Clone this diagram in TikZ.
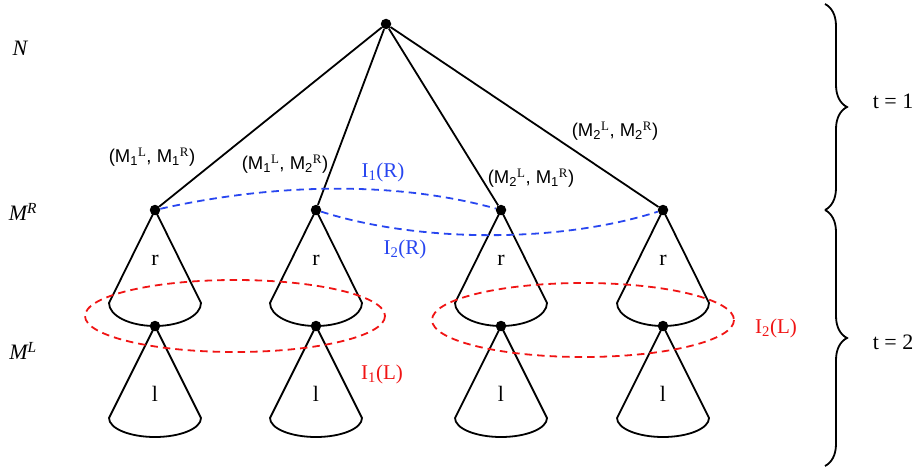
\documentclass[tikz,border=0pt]{standalone}
\usepackage{fontspec}
\setmainfont{Liberation Serif}
\newfontfamily\movefont{Liberation Sans}
\usetikzlibrary{decorations.pathreplacing}

\definecolor{setred}{RGB}{240,20,20}
\definecolor{setblue}{RGB}{40,70,240}

\tikzstyle{dot} = [circle,fill=black,inner sep=0pt,minimum size=10.5pt]
\tikzstyle{edge} = [line width=1.8pt]
\tikzstyle{info} = [line width=1.8pt,dash pattern=on 7.5pt off 5pt]
\tikzstyle{move} = [font=\movefont\fontsize{18.5}{20}\selectfont]
\tikzstyle{setlabel} = [font=\fontsize{21}{24}\selectfont]
\tikzstyle{conelabel} = [font=\fontsize{22}{24}\selectfont]
\tikzstyle{player} = [font=\itshape\fontsize{22}{24}\selectfont]

\newcommand{\mv}[4]{(M\textsubscript{#1}\textsuperscript{\rmfamily#2}, M\textsubscript{#3}\textsuperscript{\rmfamily#4})}

\begin{document}
\begin{tikzpicture}[x=1pt,y=-1pt]
\useasboundingbox (0,0) rectangle (921,468);

\node (root) [dot] at (386,24) {};

% cones for both stages
\foreach \x/\n in {155/1,316/2,501/3,663/4} {
  \draw [edge] (\x,210) -- (\x-46,303) arc[start angle=180,end angle=0,x radius=46,y radius=23] -- cycle;
  \draw [edge] (\x,326) -- (\x-46,418) arc[start angle=180,end angle=0,x radius=46,y radius=19] -- cycle;
  \node (r\n) [dot] at (\x,210) {};
  \node (l\n) [dot] at (\x,326) {};
  \node (rl\n) [conelabel] at (\x,260) {r};
  \node (ll\n) [conelabel] at (\x,394) {l};
  \draw [edge] (root) -- (r\n);
}

\node (m1) [move] at (152,157) {\mv{1}{L}{1}{R}};
\node (m2) [move] at (285,164) {\mv{1}{L}{2}{R}};
\node (m3) [move] at (531,178) {\mv{2}{L}{1}{R}};
\node (m4) [move] at (615,131) {\mv{2}{L}{2}{R}};

% information sets
\draw [info,setblue] (r1) .. controls (280,182) and (400,182) .. (r3);
\draw [info,setblue] (r2) .. controls (420,243) and (560,243) .. (r4);
\draw [info,setred] (235,316) ellipse [x radius=150,y radius=36];
\draw [info,setred] (583,320) ellipse [x radius=151,y radius=37];

\node (i1r) [setlabel,text=setblue] at (383,172) {I\textsubscript{1}(R)};
\node (i2r) [setlabel,text=setblue] at (405,249) {I\textsubscript{2}(R)};
\node (i1l) [setlabel,text=setred] at (382,374) {I\textsubscript{1}(L)};
\node (i2l) [setlabel,text=setred] at (776,328) {I\textsubscript{2}(L)};

\node (pn) [player] at (20,48) {N};
\node (pr) [player] at (23,212) {M\textsuperscript{R}};
\node (pl) [player] at (23,351) {M\textsuperscript{L}};

% stages
\draw [edge,decorate,decoration={brace,amplitude=22pt}] (825,4) -- (825,210);
\draw [edge,decorate,decoration={brace,amplitude=22pt}] (825,210) -- (825,466);
\node (t1) [setlabel,font=\fontsize{22}{24}\selectfont] at (893,101) {t = 1};
\node (t2) [setlabel,font=\fontsize{22}{24}\selectfont] at (893,342) {t = 2};

\end{tikzpicture}
\end{document}
